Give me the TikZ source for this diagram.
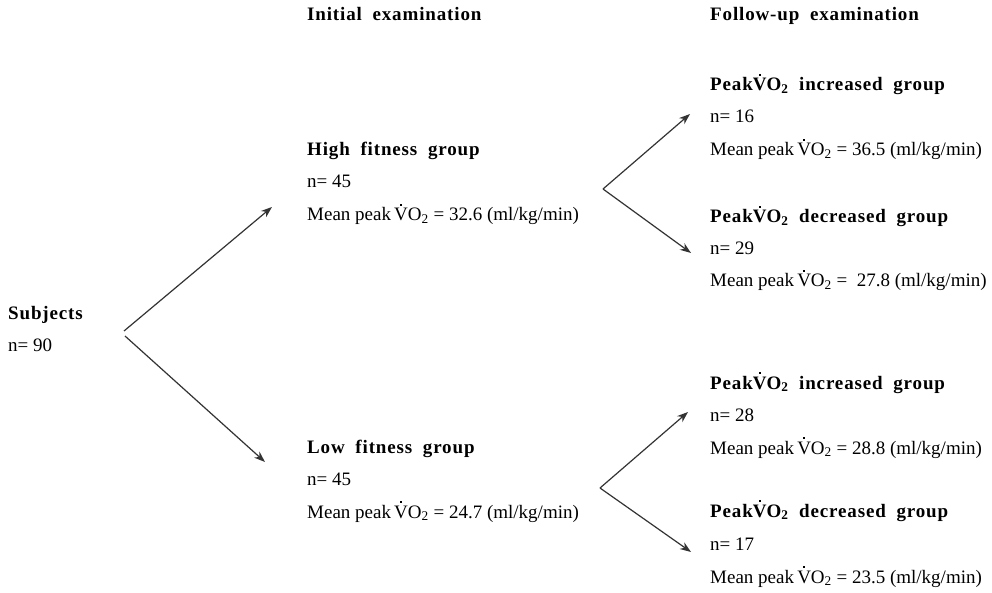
\documentclass[tikz,border=0pt]{standalone}
\usepackage{fontspec}
\setmainfont{Liberation Serif}
\newfontfamily\headfont{Liberation Serif}[LetterSpace=4.5,WordSpace={1.9}]
\usetikzlibrary{arrows.meta}
\newcommand{\Vdt}{\ooalign{V\cr\hidewidth\raisebox{0.8em}{\rule{0.11em}{0.11em}}\hidewidth\cr}}
\newcommand{\VOtwo}{\Vdt O\textsubscript{2}}
\begin{document}
\begin{tikzpicture}[x=1pt,y=-1pt,
  head/.style={anchor=base west, inner sep=0pt, font=\headfont\bfseries\fontsize{19}{23}\selectfont},
  txt/.style={anchor=base west, inner sep=0pt, font=\fontsize{19}{23}\selectfont},
  arr/.style={draw=black!80, line width=1.2pt, -{Stealth[length=11pt,width=8pt,inset=3.5pt]}}]
\useasboundingbox[fill=white] (0,0) rectangle (992,593);
% column headings
\node[head] (hinit) at (307,21) {Initial examination};
\node[head] (hfol) at (710,21) {Follow-up examination};
% subjects
\node[head] (subj) at (8,319) {Subjects};
\node[txt] (subjn) at (8,351) {n= 90};
% high fitness
\node[head] (high) at (307,156) {High fitness group};
\node[txt] (highn) at (307,188) {n= 45};
\node[txt] (highm) at (307,221) {Mean peak\,\VOtwo{} = 32.6 (ml/kg/min)};
% low fitness
\node[head] (low) at (307,453) {Low fitness group};
\node[txt] (lown) at (307,485) {n= 45};
\node[txt] (lowm) at (307,518) {Mean peak\,\VOtwo{} = 24.7 (ml/kg/min)};
% right column, upper
\node[head] (hi1) at (710,91) {Peak\VOtwo{} increased group};
\node[txt] (hi1n) at (710,123) {n= 16};
\node[txt] (hi1m) at (710,156) {Mean peak\,\VOtwo{} = 36.5 (ml/kg/min)};
\node[head] (hd1) at (710,223) {Peak\VOtwo{} decreased group};
\node[txt] (hd1n) at (710,255) {n= 29};
\node[txt] (hd1m) at (710,287) {Mean peak\,\VOtwo{} = \ 27.8 (ml/kg/min)};
% right column, lower
\node[head] (li1) at (710,389) {Peak\VOtwo{} increased group};
\node[txt] (li1n) at (710,421) {n= 28};
\node[txt] (li1m) at (710,454) {Mean peak\,\VOtwo{} = 28.8 (ml/kg/min)};
\node[head] (ld1) at (710,517) {Peak\VOtwo{} decreased group};
\node[txt] (ld1n) at (710,550) {n= 17};
\node[txt] (ld1m) at (710,583) {Mean peak\,\VOtwo{} = 23.5 (ml/kg/min)};
% arrow points
\coordinate (s0) at (124,331);
\coordinate (s1) at (125,336);
\coordinate (tH) at (272,207);
\coordinate (tL) at (265,462);
\coordinate (h0) at (603,189);
\coordinate (tHi) at (690,114);
\coordinate (tHd) at (691,253);
\coordinate (l0) at (600,488);
\coordinate (tLi) at (688,412);
\coordinate (tLd) at (691,552);
\draw[arr] (s0) -- (tH);
\draw[arr] (s1) -- (tL);
\draw[arr] (h0) -- (tHi);
\draw[arr] (h0) -- (tHd);
\draw[arr] (l0) -- (tLi);
\draw[arr] (l0) -- (tLd);
\end{tikzpicture}
\end{document}
